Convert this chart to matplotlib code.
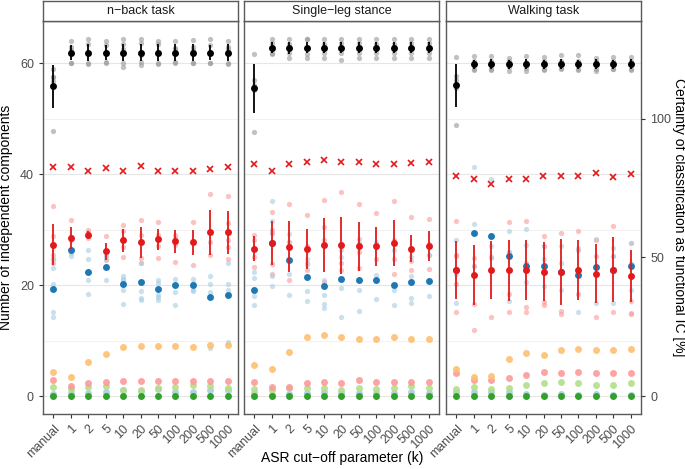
"""Number of ICs per class vs ASR cut-off, three tasks, with certainty on a second axis."""
import matplotlib
matplotlib.use("Agg")
import matplotlib.pyplot as plt
import numpy as np

plt.rcParams['font.family'] = ['Liberation Sans', 'DejaVu Sans']

CUTOFFS = ["manual", "1", "2", "5", "10", "20", "50", "100", "200", "500", "1000"]
TASKS = ["n\u2212back task", "Single\u2212leg stance", "Walking task"]

# total number of ICs (mean, sd, single subjects)
total_mean = [
    [55.8, 61.9, 61.9, 61.9, 61.9, 61.9, 61.9, 61.9, 61.9, 61.9, 61.9],
    [55.5, 62.8, 62.8, 62.8, 62.8, 62.8, 62.8, 62.8, 62.8, 62.8, 62.8],
    [56.0, 59.8, 59.8, 59.8, 59.8, 59.8, 59.8, 59.8, 59.8, 59.8, 59.8],
]
total_sd = [
    [3.8, 1.4, 1.5, 1.4, 1.5, 1.5, 1.5, 1.5, 1.5, 1.4, 1.5],
    [4.4, 1.0, 1.1, 1.0, 1.0, 1.0, 1.0, 1.0, 1.0, 1.0, 1.0],
    [3.9, 0.8, 0.9, 0.8, 0.9, 0.8, 0.9, 0.8, 0.9, 0.8, 0.9],
]
total_subj = [
    [[59.0, 57.6, 56.8, 57.6, 47.8], [64.0, 63.0, 60.1, 60.1, 62.3], [64.3, 63.4, 61.9, 60.1, 59.8],
     [64.0, 63.2, 62.0, 60.1, 60.2], [64.3, 63.4, 62.5, 60.0, 59.3], [64.4, 63.6, 61.5, 60.3, 59.7],
     [64.0, 63.5, 62.0, 60.1, 59.9], [64.0, 62.8, 62.5, 60.3, 60.0], [64.1, 63.0, 62.3, 60.1, 60.0],
     [64.3, 63.2, 62.0, 60.0, 60.0], [64.0, 62.9, 62.6, 60.1, 59.9]],
    [[61.7, 57.0, 56.0, 55.2, 47.6], [64.3, 63.7, 62.8, 61.8, 61.7], [64.3, 63.5, 62.8, 61.8, 61.0],
     [64.4, 64.3, 62.8, 61.6, 60.9], [64.3, 63.5, 63.0, 61.8, 60.9], [64.3, 63.7, 62.8, 61.8, 60.6],
     [64.4, 63.7, 62.8, 61.8, 60.9], [64.3, 63.5, 62.8, 61.8, 60.9], [64.3, 63.5, 63.0, 61.8, 60.9],
     [64.3, 63.7, 62.8, 61.8, 60.9], [64.3, 63.7, 62.8, 61.8, 60.9]],
    [[61.1, 57.7, 57.0, 55.5, 48.9], [61.3, 60.4, 59.8, 59.0, 58.8], [61.3, 60.4, 59.8, 59.0, 58.8],
     [61.0, 60.4, 59.8, 59.4, 58.6], [61.3, 60.2, 59.8, 59.2, 58.6], [61.2, 60.4, 59.8, 59.0, 58.8],
     [61.5, 60.4, 59.8, 59.1, 58.9], [61.4, 60.4, 59.8, 59.0, 58.8], [61.0, 60.4, 59.8, 59.0, 58.6],
     [61.2, 60.4, 59.8, 59.0, 58.9], [61.1, 60.4, 59.8, 59.0, 58.7]],
]

# class shown in red (mean, sd, single subjects)
red_mean = [
    [27.3, 28.5, 29.0, 26.1, 28.1, 27.7, 28.3, 27.9, 27.7, 29.5, 29.5],
    [26.6, 27.6, 26.9, 26.6, 27.2, 27.2, 27.0, 27.0, 27.6, 26.6, 27.0],
    [22.7, 21.8, 22.8, 22.7, 22.7, 22.4, 22.4, 22.8, 22.1, 22.8, 21.6],
]
red_sd = [
    [3.7, 2.0, 0.7, 1.5, 2.1, 2.8, 1.9, 2.1, 2.3, 4.0, 3.8],
    [2.2, 3.9, 4.6, 3.6, 4.9, 5.1, 4.4, 3.5, 4.1, 2.5, 2.7],
    [5.2, 5.4, 5.2, 5.5, 5.4, 5.3, 6.0, 5.4, 5.3, 5.8, 4.7],
]
red_subj = [
    [[34.2, 28.8, 25.4, 24.0, 24.8], [31.8, 28.7, 28.2, 26.4], [29.9, 29.6, 28.5, 29.0],
     [28.9, 25.2, 24.6], [30.9, 29.7, 26.9, 25.1], [31.8, 29.1, 24.9, 24.0],
     [31.4, 29.1, 27.0, 24.9], [29.1, 28.5, 27.3, 24.1], [31.4, 27.9, 23.7],
     [36.5, 27.8, 25.4], [36.1, 31.2, 28.1, 26.9, 24.7]],
    [[29.0, 28.2, 25.1, 23.3], [33.2, 30.0, 29.4, 23.9, 22.0], [34.7, 27.8, 27.0, 21.0],
     [32.7, 27.0, 24.0, 22.8], [35.3, 30.4, 28.2, 20.5], [36.8, 27.0, 24.0, 22.8],
     [34.7, 28.4, 26.0, 23.1], [33.0, 27.0, 24.8], [35.1, 28.1, 24.8, 22.1],
     [32.3, 24.4, 22.8], [32.0, 27.5, 25.5, 23.0]],
    [[31.6, 25.5, 25.2, 20.2, 15.1], [24.9, 23.4, 16.6, 12.0], [25.0, 14.2],
     [31.3, 25.9, 18.4, 15.1], [31.5, 24.0, 16.0, 15.1], [28.8, 27.0, 17.0, 16.4],
     [29.4, 15.3, 14.8], [29.8, 26.4, 18.4], [28.1, 25.2, 14.2],
     [30.6, 25.2, 15.1], [27.6, 17.2, 15.0, 14.8]],
]

# class shown in dark blue (mean, single subjects)
blue_mean = [
    [19.4, 26.4, 22.4, 23.3, 20.2, 20.6, 19.4, 20.0, 20.0, 17.8, 18.2],
    [19.2, 27.6, 24.6, 21.5, 19.8, 21.2, 20.9, 21.0, 20.0, 20.6, 20.8],
    [22.7, 29.4, 28.8, 25.2, 23.4, 23.4, 22.4, 21.9, 23.3, 22.8, 23.4],
]
blue_subj = [
    [[24.8, 23.1, 20.3, 15.2, 14.3], [28.7, 25.8, 25.2], [26.4, 24.8, 20.9, 18.5],
     [25.4, 24.8, 20.9], [21.7, 21.2, 20.9, 19.1, 16.7], [24.0, 18.9, 17.7, 17.4],
     [21.0, 20.4, 18.2, 17.8, 17.4], [21.2, 18.7, 16.5], [21.2, 20.4, 19.2, 18.9],
     [21.7, 20.3, 18.8, 8.6], [24.0, 20.2, 19.2, 9.7]],
    [[22.3, 21.3, 18.1, 16.4], [35.2, 31.6, 29.4, 21.7, 19.8], [29.2, 27.8, 22.1, 18.3],
     [24.8, 23.7, 18.9, 17.2], [20.9, 18.2, 16.7, 15.9], [26.4, 25.1, 19.5, 14.3],
     [27.6, 19.2, 15.3], [27.8, 21.8, 17.6], [26.3, 19.2, 16.5],
     [25.0, 21.7, 17.7, 16.8], [25.5, 21.0, 18.0]],
    [[28.1, 22.1, 16.8], [41.3, 31.0, 23.5], [39.2, 27.0, 24.9],
     [29.7, 25.9, 17.2], [30.2, 27.3, 20.5], [27.0, 24.7, 19.8],
     [27.0, 24.0, 19.2], [26.7, 15.1], [28.4, 23.3, 16.8],
     [26.7, 25.2, 16.8], [27.6, 24.0, 19.2]],
]

# small classes (means only)
orange_mean = [
    [4.3, 3.4, 6.2, 7.6, 8.8, 9.0, 9.0, 9.0, 8.8, 9.2, 9.2],
    [5.6, 4.9, 8.0, 10.7, 11.1, 10.7, 10.3, 10.4, 10.7, 10.4, 10.4],
    [4.9, 3.5, 3.7, 6.7, 7.7, 7.4, 8.3, 8.5, 8.3, 8.3, 8.5],
]
pink_mean = [
    [3.0, 1.9, 2.3, 2.5, 2.7, 2.7, 2.7, 2.7, 2.7, 2.7, 2.7],
    [2.5, 1.7, 1.7, 2.3, 2.6, 2.3, 2.9, 2.6, 2.6, 2.6, 2.6],
    [4.1, 2.9, 2.9, 3.2, 3.8, 4.3, 4.1, 4.3, 4.1, 4.1, 4.1],
]
lightgreen_mean = [
    [1.6, 1.3, 1.6, 1.9, 1.2, 1.2, 1.4, 1.6, 2.1, 1.9, 1.4],
    [1.3, 1.1, 1.4, 1.4, 1.4, 1.1, 1.4, 1.3, 1.4, 1.9, 1.4],
    [1.3, 1.7, 1.3, 1.4, 2.0, 2.3, 2.5, 2.3, 2.0, 2.0, 2.3],
]
lightblue_mean = [
    [0.4, 0.6, 0.6, 0.8, 1.2, 1.0, 1.3, 0.8, 0.8, 1.1, 1.2],
    [0.5, 0.2, 0.4, 0.6, 0.8, 0.6, 0.6, 0.6, 0.6, 0.8, 0.6],
    [0.8, 0.8, 0.7, 0.8, 0.4, 0.2, 0.4, 0.2, 0.4, 0.2, 0.2],
]
green_mean = [
    [0.0] * 11,
    [0.0] * 11,
    [0.0] * 11,
]

# certainty of classification as functional IC [%]
certainty = [
    [82.6, 82.6, 81.2, 82.2, 81.0, 83.0, 81.2, 81.2, 81.0, 81.9, 82.6],
    [83.5, 81.2, 83.7, 84.4, 85.2, 84.5, 84.4, 83.8, 83.5, 84.0, 84.4],
    [79.3, 78.2, 76.6, 78.4, 78.4, 79.5, 79.5, 79.3, 80.3, 78.9, 79.9],
]

C_RED = "#E31A1C"
C_BLUE = "#1F78B4"
C_LBLUE = "#A6CEE3"
C_PINK = "#FB9A99"
C_ORANGE = "#FDBF6F"
C_LGREEN = "#B2DF8A"
C_GREEN = "#33A02C"
TXT = "#4D4D4D"
BORDER = "#5A5A5A"

W, H = 685, 469
fig = plt.figure(figsize=(W / 100, H / 100), dpi=100)

lefts = [43, 244, 446]
pw = 195
ptop, pbot = 21, 414
ylim = (-3.2, 67.6)
x = np.arange(len(CUTOFFS))


def subj_points(ax, data, color, alpha):
    xs, ys = [], []
    for i, vals in enumerate(data):
        xs += [i] * len(vals)
        ys += vals
    ax.plot(xs, ys, 'o', ms=3.8, color=color, alpha=alpha, mec='none', zorder=3)


for k, task in enumerate(TASKS):
    ax = fig.add_axes([lefts[k] / W, (H - pbot) / H, pw / W, (pbot - ptop) / H])
    ax.set_xlim(-0.6, len(CUTOFFS) - 0.4)
    ax.set_ylim(*ylim)
    ax.set_yticks([0, 20, 40, 60])
    ax.set_yticks([10, 30, 50], minor=True)
    ax.grid(axis='y', which='major', color='#E6E6E6', lw=0.8, zorder=0)
    ax.grid(axis='y', which='minor', color='#F0F0F0', lw=0.6, zorder=0)
    ax.set_axisbelow(True)
    for s in ax.spines.values():
        s.set_color(BORDER)
        s.set_linewidth(1.0)
    ax.tick_params(axis='both', which='major', length=3, color='#333333',
                   labelcolor=TXT, labelsize=9)
    ax.tick_params(axis='y', which='minor', length=0)
    ax.set_xticks(x)
    ax.set_xticklabels(CUTOFFS, rotation=45, ha='right', va='top',
                       rotation_mode='anchor')
    if k > 0:
        ax.tick_params(axis='y', which='both', length=0, labelleft=False)

    # single subjects
    subj_points(ax, total_subj[k], '#999999', 0.6)
    subj_points(ax, red_subj[k], C_PINK, 0.6)
    subj_points(ax, blue_subj[k], C_LBLUE, 0.6)

    # small classes
    for series, col in [(lightblue_mean, C_LBLUE), (lightgreen_mean, C_LGREEN),
                        (pink_mean, C_PINK), (orange_mean, C_ORANGE)]:
        ax.plot(x, series[k], 'o', ms=5, color=col, alpha=0.9, mec='none', zorder=4)
    ax.plot(x, green_mean[k], 'o', ms=5, color=C_GREEN, mec='none', zorder=4)

    ax.plot(x, blue_mean[k], 'o', ms=5, color=C_BLUE, mec='none', zorder=5)
    ax.errorbar(x, red_mean[k], yerr=red_sd[k], fmt='o', ms=5, color=C_RED,
                mec='none', elinewidth=1.3, capsize=0, zorder=6)
    ax.errorbar(x, total_mean[k], yerr=total_sd[k], fmt='o', ms=5, color='black',
                mec='none', elinewidth=1.3, capsize=0, zorder=6)

    # certainty on its own scale (0-100 % = 0-50 ICs)
    ax2 = ax.twinx()
    ax2.set_ylim(ylim[0] * 2, ylim[1] * 2)
    ax2.plot(x, certainty[k], 'x', ms=5, mew=1.2, color=C_RED, zorder=6)
    for s in ax2.spines.values():
        s.set_visible(False)
    ax2.set_yticks([0, 50, 100])
    if k == 2:
        ax2.tick_params(axis='y', length=3, color='#333333', labelcolor=TXT, labelsize=9)
        ax2.set_ylabel("Certainty of classification as functional IC [%]",
                       rotation=270, labelpad=11, fontsize=10, color='black')
    else:
        ax2.tick_params(axis='y', length=0, labelright=False)

    if k == 0:
        ax.set_ylabel("Number of independent components", fontsize=10, labelpad=5)

    # facet strip
    sax = fig.add_axes([lefts[k] / W, (H - ptop) / H, pw / W, 20 / H])
    sax.set_xticks([])
    sax.set_yticks([])
    for s in sax.spines.values():
        s.set_color(BORDER)
        s.set_linewidth(1.0)
    sax.text(0.5, 0.5, task, ha='center', va='center', fontsize=9, color='#1A1A1A',
             transform=sax.transAxes)

fig.text(342 / W, 1 - 458 / H, "ASR cut\u2212off parameter (k)", ha='center', va='center',
         fontsize=10)

fig.savefig("out.png", dpi=100)
